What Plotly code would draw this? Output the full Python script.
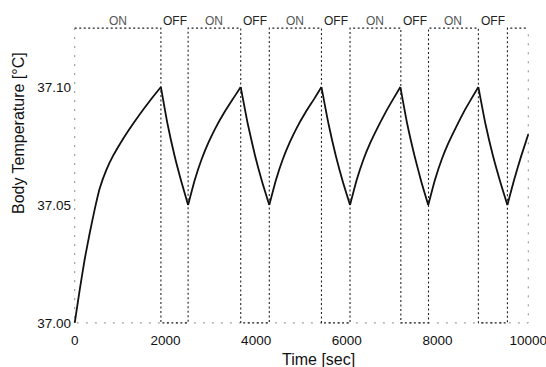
import plotly.graph_objects as go

# ---------------- data ----------------
time_s = [
    0, 110, 220, 330, 450, 550, 700, 850, 1000, 1200, 1435, 1650, 1900,
    2050, 2200, 2350, 2500,
    2650, 2800, 2950, 3100, 3300, 3500, 3660,
    3820, 3975, 4130, 4290,
    4440, 4590, 4740, 4890, 5090, 5290, 5440,
    5600, 5755, 5910, 6070,
    6220, 6370, 6520, 6670, 6860, 7040, 7180,
    7335, 7490, 7640, 7795,
    7945, 8095, 8245, 8395, 8580, 8760, 8900,
    9060, 9220, 9380, 9540,
    9690, 9840, 10000,
]
body_temp = [
    37.000, 37.014, 37.027, 37.038, 37.049, 37.057, 37.065, 37.071, 37.076, 37.082, 37.0885, 37.094, 37.100,
    37.084, 37.071, 37.060, 37.050,
    37.0608, 37.0695, 37.0765, 37.0825, 37.0893, 37.0953, 37.100,
    37.084, 37.071, 37.060, 37.050,
    37.0608, 37.0695, 37.0765, 37.0825, 37.0893, 37.0953, 37.100,
    37.084, 37.071, 37.060, 37.050,
    37.0608, 37.0695, 37.0765, 37.0825, 37.0895, 37.0955, 37.100,
    37.084, 37.071, 37.060, 37.050,
    37.0608, 37.0695, 37.0765, 37.0825, 37.0895, 37.0955, 37.100,
    37.084, 37.071, 37.060, 37.050,
    37.0608, 37.0705, 37.080,
]

switch_times = [0, 1900, 2500, 3660, 4290, 5440, 6070, 7190, 7800, 8900, 9540, 10000]
heater_states = ["ON", "OFF", "ON", "OFF", "ON", "OFF", "ON", "OFF", "ON", "OFF", "ON"]
state_labels = ["ON", "OFF", "ON", "OFF", "ON", "OFF", "ON", "OFF", "ON", "OFF", ""]
LEVEL_ON = 37.125
LEVEL_OFF = 37.00

x_ticks = [0, 2000, 4000, 6000, 8000, 10000]
x_tick_text = ["0", "2000", "4000", "6000", "8000", "10000"]
y_ticks = [37.00, 37.05, 37.10]
y_tick_text = ["37.00", "37.05", "37.10"]

# ---------------- build square wave ----------------
sq_x, sq_y = [], []
for i, st in enumerate(heater_states):
    lv = LEVEL_ON if st == "ON" else LEVEL_OFF
    sq_x += [switch_times[i], switch_times[i + 1]]
    sq_y += [lv, lv]

# split the temperature curve into monotone pieces (at peaks/troughs)
breaks = [0]
for k in range(1, len(body_temp) - 1):
    if (body_temp[k] - body_temp[k - 1]) * (body_temp[k + 1] - body_temp[k]) < 0:
        breaks.append(k)
breaks.append(len(body_temp) - 1)

FONT = "Liberation Sans, Arial, sans-serif"
X0, X1 = -60, 10060
Y0, Y1 = 36.997, 37.128

fig = go.Figure()

# faint dotted frame (axes)
fig.add_trace(go.Scatter(
    x=[switch_times[0], switch_times[0], switch_times[-1], switch_times[-1]],
    y=[LEVEL_ON, LEVEL_OFF, LEVEL_OFF, LEVEL_ON],
    mode="lines", line=dict(color="#8a8a8a", width=1, dash="2px,7px"),
    hoverinfo="skip", showlegend=False))

# heater square wave
fig.add_trace(go.Scatter(
    x=sq_x, y=sq_y, mode="lines",
    line=dict(color="#222222", width=1.1, dash="2px,2.5px"),
    showlegend=False))

# body temperature curve
for a, b in zip(breaks[:-1], breaks[1:]):
    fig.add_trace(go.Scatter(
        x=time_s[a:b + 1], y=body_temp[a:b + 1], mode="lines",
        line=dict(color="#111111", width=1.8, shape="spline", smoothing=0.5),
        showlegend=False))

annotations = []
for i, lab in enumerate(state_labels):
    if not lab:
        continue
    mid = (switch_times[i] + switch_times[i + 1]) / 2
    annotations.append(dict(
        x=(mid - X0) / (X1 - X0), y=1.001, xref="paper", yref="paper",
        text=lab, showarrow=False, yanchor="middle", xanchor="center",
        font=dict(family=FONT, size=12, color="#555555" if lab == "ON" else "#222222")))

annotations.append(dict(
    x=0.538, y=-0.097, xref="paper", yref="paper", text="Time [sec]",
    showarrow=False, xanchor="center", yanchor="middle",
    font=dict(family=FONT, size=16, color="#111111")))
annotations.append(dict(
    x=-0.1176, y=0.6375, xref="paper", yref="paper", text="Body Temperature [°C]",
    showarrow=False, xanchor="center", yanchor="middle", textangle=-90,
    font=dict(family=FONT, size=16, color="#111111")))

fig.update_layout(
    width=546, height=367,
    margin=dict(l=72, r=15, t=21, b=37, autoexpand=False),
    paper_bgcolor="white", plot_bgcolor="white",
    annotations=annotations,
    xaxis=dict(range=[X0, X1], tickvals=x_ticks, ticktext=x_tick_text, ticks="",
               ticklabeloverflow="allow", automargin=False,
               showgrid=False, zeroline=False, showline=False,
               tickfont=dict(family=FONT, size=13.5, color="#111111")),
    yaxis=dict(range=[Y0, Y1], tickvals=y_ticks, ticktext=y_tick_text,
               ticks="", automargin=False,
               showgrid=False, zeroline=False, showline=False,
               tickfont=dict(family=FONT, size=13.5, color="#111111")),
)

fig.write_html("out.html")
